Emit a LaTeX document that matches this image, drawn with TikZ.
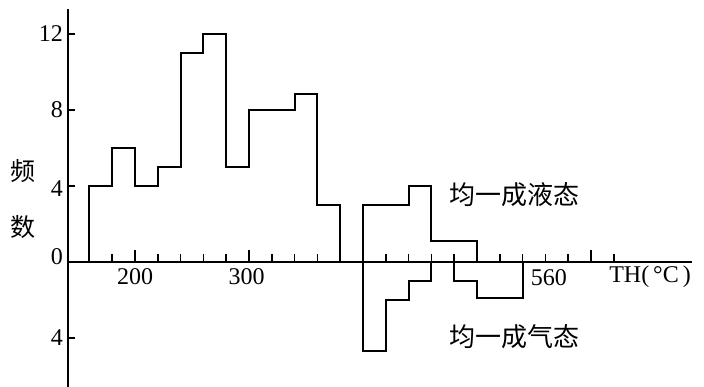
\documentclass[tikz,border=0pt]{standalone}
\usepackage{fontspec}
\setmainfont{Liberation Serif}
\newfontfamily\cjk{Noto Sans CJK SC}
\begin{document}
\begin{tikzpicture}[x=1pt, y=1pt, every node/.style={inner sep=0pt, font=\fontsize{24}{26}\selectfont}]
    \useasboundingbox (0,0) rectangle (704,387);
    \begin{scope}[shift={(-93pt,125pt)}, x=1.14pt, y=19pt]
        % Draw axes
        \draw[line width=2.2pt] (141.2,13.3) -- (141.2,-6.6);
        \draw[line width=2.2pt] (141.2,0) -- (688.6,0);

        % Axis ticks
        \foreach \tx in {180,200,...,620}
            \draw[line width=1.6pt] (\tx,0) -- (\tx,0.42);
        \foreach \tx in {200,300,600}
            \draw[line width=1.6pt] (\tx,0) -- (\tx,0.65);
        \foreach \cv in {12,8,4,-4}
            \draw[line width=1.6pt] (141.2,\cv) -- (147.5,\cv);

        % Histogram, left part
        \draw[line width=2pt] (160,0) |- (180,4) |- (200,6) |- (220,4) |- (240,5) |- (260,11) |- (280,12)
            |- (300,5) |- (340,8) |- (360,8.85) |- (380,3) -- (380,0);

        % Histogram, right part
        \draw[line width=2pt] (400,0) |- (440,3) |- (460,4) |- (500,1.1) -- (500,0);
        \draw[line width=2pt] (400,0) |- (420,-4.7) |- (440,-2) |- (460,-1) -- (460,0);
        \draw[line width=2pt] (480,0) |- (500,-1) |- (540,-1.9) -- (540,0);

        % Counts
        \node[anchor=east] (c12) at (137,12) {12};
        \node[anchor=east] (c8) at (137,8) {8};
        \node[anchor=east] (c4) at (137,3.85) {4};
        \node[anchor=east] (c0) at (137,0.3) {0};
        \node[anchor=east] (cm4) at (137,-4) {4};
        \node[font=\fontsize{25}{27}\selectfont] (pin) at (101.8,4.8) {\cjk 频};
        \node[font=\fontsize{25}{27}\selectfont] (shu) at (101.8,1.85) {\cjk 数};

        % Temperatures
        \node (t200) at (200,-0.75) {200};
        \node (t300) at (298,-0.75) {300};
        \node (t560) at (563,-0.8) {560};
        \node (th) at (651.8,-0.8) {TH(\,°C\,)};

        % Phases
        \node[font=\fontsize{26}{28}\selectfont] (liquid) at (532.5,3.55) {\cjk 均一成液态};
        \node[font=\fontsize{26}{28}\selectfont] (vapour) at (533.3,-3.95) {\cjk 均一成气态};
    \end{scope}
\end{tikzpicture}
\end{document}
